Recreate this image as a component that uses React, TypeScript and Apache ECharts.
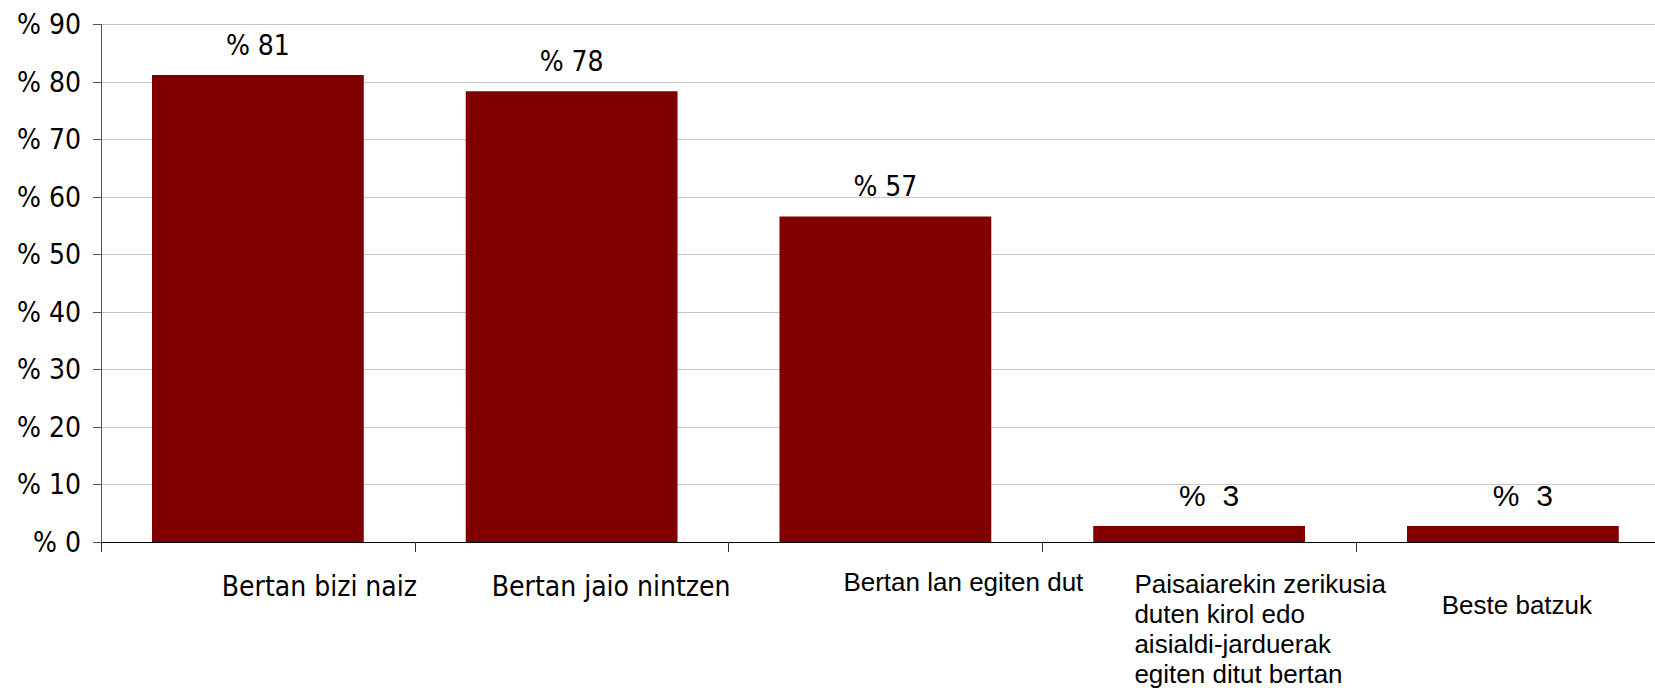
import React, { useEffect, useRef } from "react";
import * as echarts from "echarts";

const categories: string[] = [
  "Bertan bizi naiz",
  "Bertan jaio nintzen",
  "Bertan lan egiten dut",
  "Paisaiarekin zerikusia\nduten kirol edo\naisialdi-jarduerak\negiten ditut bertan",
  "Beste batzuk",
];
const values: number[] = [81.2, 78.4, 56.6, 2.8, 2.8];
const yMin = 0;
const yMax = 90;
const yInterval = 10;

const COND = "'DejaVu Sans Condensed', 'DejaVu Sans', sans-serif";
const ARIAL = "'Liberation Sans', Arial, sans-serif";

export default function App() {
  const ref = useRef<HTMLDivElement>(null);
  useEffect(() => {
    if (!ref.current) return;
    const chart = echarts.init(ref.current, null, { renderer: "svg" });
    const data = values.map((v, i) => {
      const small = v < 10;
      return {
        value: v,
        label: small
          ? { fontFamily: ARIAL, fontSize: 30, distance: 15, offset: [10, 0] }
          : { fontFamily: COND, fontSize: 28, distance: 16 },
      };
    });
    chart.setOption({
      animation: false,
      backgroundColor: "#ffffff",
      grid: { left: 101, top: 24.5, bottom: 152, right: 30.25, containLabel: false },
      xAxis: {
        type: "category",
        data: categories,
        axisLine: { lineStyle: { color: "#000", width: 1 } },
        axisTick: { show: true, length: 10, lineStyle: { color: "#333" } },
        axisLabel: {
          interval: 0,
          margin: 8,
          color: "#000",
          formatter: (value: string, idx: number) =>
            value
              .split("\n")
              .map((line, j) => `{${j === 0 ? "f" : "r"}${idx}|${line}}`)
              .join("\n"),
          rich: {
            f0: { fontFamily: COND, fontSize: 28, color: "#000", padding: [22, 0, 0, 123] },
            f1: { fontFamily: COND, fontSize: 28, color: "#000", padding: [22, 0, 0, 79] },
            f2: { fontFamily: ARIAL, fontSize: 26, color: "#000", padding: [19, 0, 0, 156] },
            f3: { fontFamily: ARIAL, fontSize: 26, color: "#000", height: 30, align: "left", padding: [19, 0, 0, 122] },
            r3: { fontFamily: ARIAL, fontSize: 26, color: "#000", height: 30, align: "left", padding: [0, 0, 0, 122] },
            f4: { fontFamily: ARIAL, fontSize: 26, color: "#000", padding: [42, 0, 0, 8] },
          },
        },
        splitLine: { show: false },
      },
      yAxis: {
        type: "value",
        min: yMin,
        max: yMax,
        interval: yInterval,
        axisLine: { show: true, lineStyle: { color: "#555", width: 1 } },
        axisTick: { show: true, length: 8, lineStyle: { color: "#555" } },
        axisLabel: {
          margin: 20,
          color: "#000",
          fontFamily: COND,
          fontSize: 28,
          padding: [6, 0, 0, 0],
          formatter: (v: number) => "% " + v,
        },
        splitLine: { show: true, lineStyle: { color: "#c8c8c8", width: 1 } },
      },
      series: [
        {
          type: "bar",
          data,
          barCategoryGap: "32.5%",
          itemStyle: { color: "#800000" },
          label: {
            show: true,
            position: "top",
            color: "#000",
            formatter: (p: any) => {
              const r = Math.round(p.value);
              return r < 10 ? "%  " + r : "% " + r;
            },
          },
        },
      ],
    });
    return () => chart.dispose();
  }, []);
  return (
    <div style={{ position: "fixed", left: 0, top: 0, width: 1655, height: 694, overflow: "hidden", background: "#fff" }}>
      <div ref={ref} style={{ width: 1700, height: 694 }} />
    </div>
  );
}
